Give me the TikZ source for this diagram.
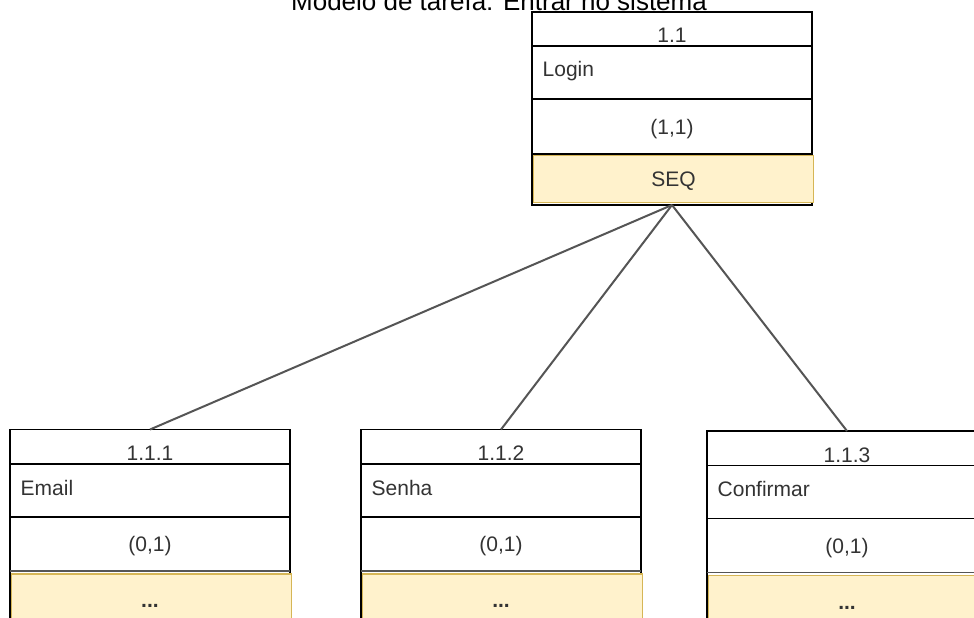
\documentclass[tikz,border=0pt]{standalone}
\usepackage{fontspec}
\setmainfont{Liberation Sans}
\definecolor{txt}{HTML}{333333}
\definecolor{seqfill}{HTML}{FFF2CC}
\definecolor{seqline}{HTML}{D6B656}
\definecolor{wirec}{HTML}{555555}
\tikzset{
  frame/.style={draw=black, line width=1.6pt, rectangle, inner sep=0pt, outer sep=0pt,
                minimum width=280pt, anchor=north west},
  seqrow/.style={draw=seqline, fill=seqfill, line width=1.5pt, rectangle, inner sep=0pt,
                 outer sep=0pt, minimum width=280pt, anchor=north west},
  rowline/.style={draw=black, line width=1.4pt},
  cell/.style={text=txt, font=\fontsize{21}{25}\selectfont, inner sep=0pt, anchor=base},
  heading/.style={font=\fontsize{26}{30}\selectfont, inner sep=0pt, anchor=base},
  wire/.style={draw=wirec, line width=2pt},
}
% one sub-task card: #1 name, #2 left, #3 top, #4 number, #5 label
\newcommand{\subtask}[5]{%
  \begin{scope}[shift={(#2,#3)}]
    \node[frame, minimum height=260pt] (#1) at (0,0) {};
    \draw[rowline] (0,34.5) -- (280,34.5);
    \draw[rowline] (0,87.5) -- (280,87.5);
    \draw[rowline, draw=wirec] (0,141.5) -- (280,141.5);
    \node[seqrow, minimum height=60pt] (#1-op) at (1.5,144.5) {};
    \node[cell] (#1-num) at (140,31) {#4};
    \node[cell, anchor=base west] (#1-lbl) at (10.5,65.5) {#5};
    \node[cell] (#1-card) at (140,122) {(0,1)};
    \node[cell] (#1-optxt) at (140,178) {\textbf{...}};
  \end{scope}}
\begin{document}
\begin{tikzpicture}[x=1pt, y=-1pt]
  \useasboundingbox[fill=white] (0,0) rectangle (974,618);

  % title
  \node[heading] (title) at (499,11) {Modelo de tarefa: Entrar no sistema};

  % root task
  \node[frame, minimum height=193pt] (top) at (532,12) {};
  \draw[rowline] (532,46) -- (812,46);
  \draw[rowline] (532,99) -- (812,99);
  \draw[rowline] (532,154) -- (812,154);
  \node[seqrow, minimum height=47pt] (seq) at (533.5,155.5) {};
  \node[cell] (top-num) at (672,42.7) {1.1};
  \node[cell, anchor=base west] (top-lbl) at (542.5,77) {Login};
  \node[cell] (top-card) at (672,134) {(1,1)};
  \node[cell] (top-op) at (673.5,186.5) {SEQ};

  % sub-tasks
  \subtask{email}{10}{429.5}{1.1.1}{Email}
  \subtask{senha}{361}{429.5}{1.1.2}{Senha}
  \subtask{conf}{707}{431}{1.1.3}{Confirmar}

  % decomposition links
  \draw[wire] (top.south) -- (email.north);
  \draw[wire] (top.south) -- (senha.north);
  \draw[wire] (top.south) -- (conf.north);
\end{tikzpicture}
\end{document}
